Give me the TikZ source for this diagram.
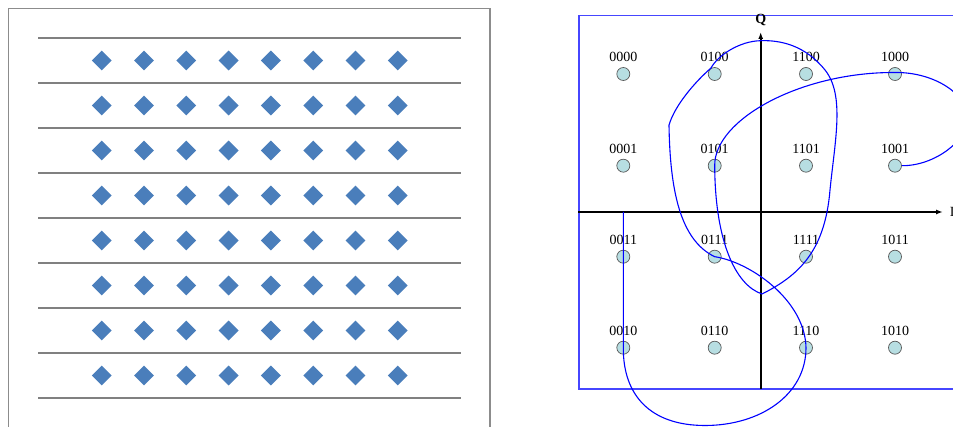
\documentclass[tikz,border=0pt]{standalone}
\usepackage{fontspec}
\setmainfont{Liberation Serif}
\usepackage{tikz}
\usetikzlibrary{shapes.geometric, arrows.meta}

\definecolor{symblue}{RGB}{74,126,187}
\definecolor{ptfill}{RGB}{183,222,226}
\definecolor{framegray}{RGB}{140,140,140}
\definecolor{rulegray}{RGB}{128,128,128}
\definecolor{boxblue}{RGB}{70,70,255}

\begin{document}
\begin{tikzpicture}[
  x=1pt, y=-1pt,
  every node/.style={font=\fontsize{14}{16}\selectfont},
  sym/.style={diamond, fill=symblue, inner sep=0pt, minimum size=20pt},
  pt/.style={circle, fill=ptfill, draw=gray!70!black, line width=0.7pt,
    inner sep=0pt, minimum size=13pt},
  bits/.style={inner sep=0pt},
  axis/.style={line width=1.8pt, -{Latex[length=7pt,width=5pt]}},
  traj/.style={blue, line width=1.1pt}
]
\useasboundingbox (0,0) rectangle (953,427);

%% ── left panel: frame, decision lines, symbols ───────────────────────────────
\draw[framegray, line width=1.8pt] (8.5,440) -- (8.5,8.5) -- (490,8.5) -- (490,440);

\foreach \j in {0,...,8}
  \draw[rulegray, line width=1.8pt] (38, 38+45*\j) -- (461, 38+45*\j);

\foreach \i in {0,...,7} {
  \foreach \j in {0,...,7} {
    \node[sym] (s\i\j) at (101.7+42.3*\i, 60.5+45*\j) {};
  }
}

%% ── right panel: frame and I/Q axes ──────────────────────────────────────────
\draw[boxblue, line width=1.2pt] (579,15.7) rectangle (975,389);

\coordinate (o) at (760.7,212);
\draw[axis] (578,212) -- (943,212) node[anchor=west, inner sep=6pt] (ilbl) {I};
\draw[axis] (760.7,389) -- (760.7,32);
\node (qlbl) at (760.7,20) {\textbf{Q}};

%% ── 16 constellation points with their bit labels ────────────────────────────
\foreach \b/\x/\y in {0000/623.3/74,    0100/714.7/74,    1100/806/74,    1000/895/74,
                      0001/623.3/165.7, 0101/714.7/165.7, 1101/806/165.7, 1001/895/165.7,
                      0011/623.3/256.7, 0111/714.7/256.7, 1111/806/256.7, 1011/895/256.7,
                      0010/623.3/347.7, 0110/714.7/347.7, 1110/806/347.7, 1010/895/347.7} {
  \node[pt] (p\b) at (\x,\y) {};
  \node[bits] (t\b) at (\x,\y-17) {\b};
}

%% ── signal trajectory ────────────────────────────────────────────────────────
\draw[traj]
  (p1001.east) .. controls (935,166) and (968,140) .. (968,118)
  .. controls (968,95) and (935,72) .. (895,72.5)
  .. controls (800,72) and (714,120) .. (p0101.center)
  .. controls (715,240) and (735,285) .. (762,294)
  .. controls (800,275) and (825,250) .. (830,190)
  .. controls (835,140) and (845,95) .. (825,70)
  .. controls (805,45) and (780,40) .. (760.7,40.7)
  .. controls (740,41) and (718,55) .. (711,68)
  .. controls (695,82) and (675,105) .. (669,125)
  .. controls (670,190) and (680,240) .. (p0111.center)
  .. controls (750,262) and (805,300) .. (p1110.center)
  .. controls (806,395) and (760,425.5) .. (705,425.5)
  .. controls (650,425.5) and (623,395) .. (p0010.center)
  -- (p0010 |- o);

\end{tikzpicture}
\end{document}
